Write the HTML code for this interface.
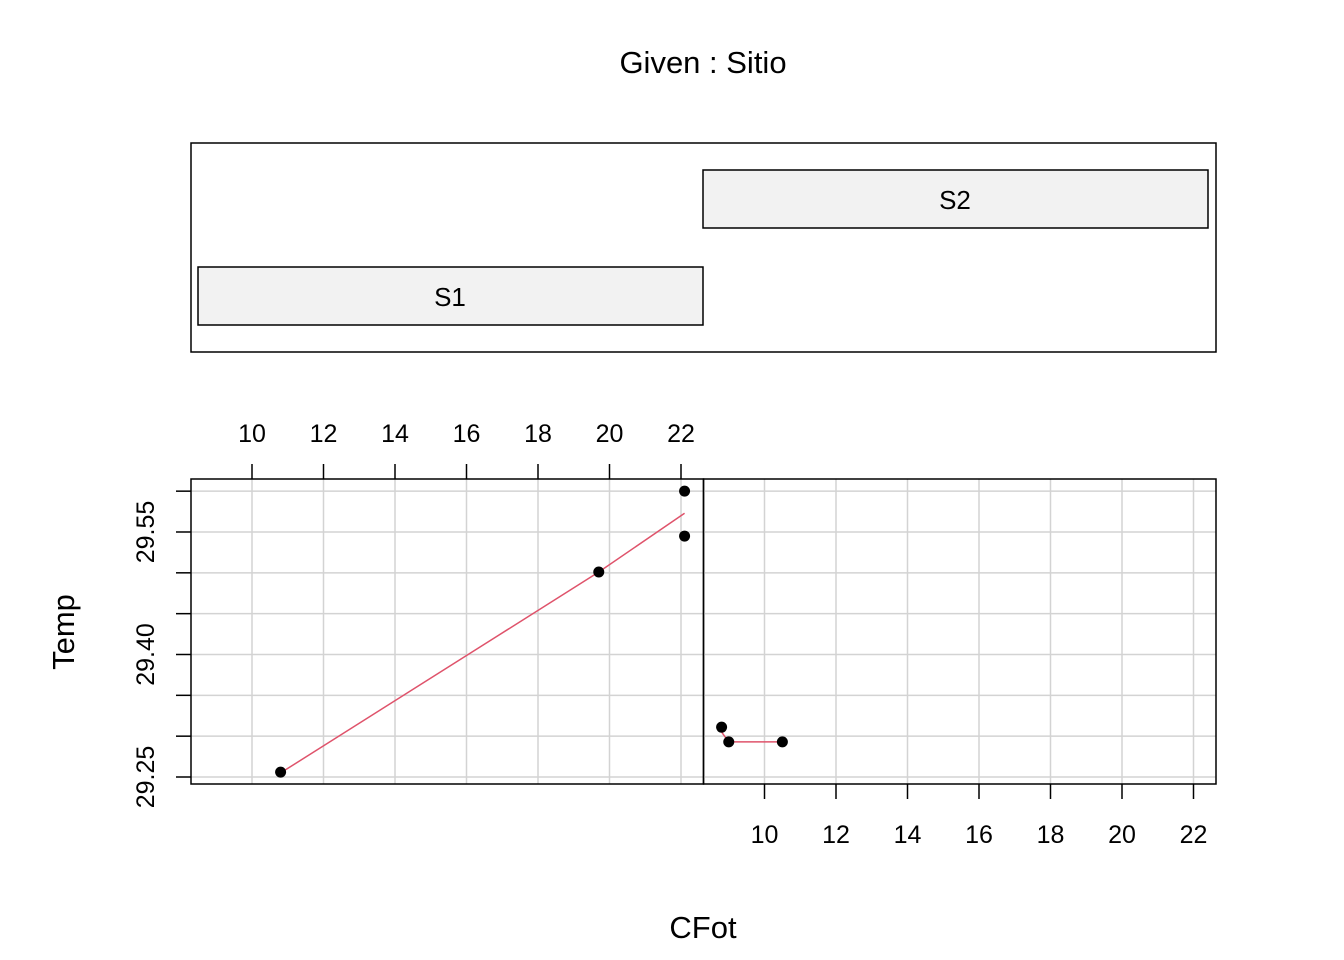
<!DOCTYPE html>
<html><head><meta charset="utf-8"><style>
body{margin:0;background:#fff;}
svg{display:block;font-family:"Liberation Sans",Arial,sans-serif;}
</style></head><body>
<svg id="chart" width="1344" height="960">
<text x="703" y="73" font-size="31" text-anchor="middle">Given : Sitio</text>
<rect x="191" y="143" width="1025" height="209" fill="none" stroke="#000" stroke-width="1.5"/>
<g id="given"></g>
<g id="panels"></g>
<text x="703" y="938" font-size="31" text-anchor="middle">CFot</text>
<text transform="translate(74,632) rotate(-90)" font-size="31" text-anchor="middle">Temp</text>
</svg>
<script>
const levels=["S1","S2"];
const xTicks=[10,12,14,16,18,20,22];
const yTicks=[29.25,29.30,29.35,29.40,29.45,29.50,29.55,29.60];
const yLabels=[29.25,29.40,29.55];
const s1x=[10.8,19.7,22.1,22.1];
const s1y=[29.256,29.501,29.545,29.600];
const s1fitx=[10.8,19.7,22.1];
const s1fity=[29.255,29.501,29.573];
const s2x=[8.8,9.0,10.5];
const s2y=[29.311,29.293,29.293];
const s2fitx=[8.8,9.0,10.5];
const s2fity=[29.305,29.293,29.293];
const NS="http://www.w3.org/2000/svg";
function mk(t,a,p){const e=document.createElementNS(NS,t);for(const k in a)e.setAttribute(k,a[k]);p.appendChild(e);return e;}
const panelsG=document.getElementById('panels');
const givenG=document.getElementById('given');
const pw=512.5, pTop=479, pBot=784;
const panelX0=[191,703.5];
function xs(i,v){return panelX0[i]+61+(v-10)*35.75;}
function ys(v){return 777-(v-29.25)*816.7;}
levels.forEach((l,i)=>{
  const y=i==0?267:170;
  const r=mk('rect',{x:i==0?198:703,y:y,width:505,height:58,fill:'#f2f2f2',stroke:'#000','stroke-width':1.5},givenG);
  
  
  const t=mk('text',{x:i==0?450:955,y:y+39,'font-size':26,'text-anchor':'middle'},givenG);
  t.textContent=l;
  
  
});
const data=[[s1x,s1y,s1fitx,s1fity],[s2x,s2y,s2fitx,s2fity]];
for(let i=0;i<2;i++){
  const x0=panelX0[i];
  xTicks.forEach(v=>{const l=mk('line',{x1:xs(i,v),x2:xs(i,v),y1:pTop,y2:pBot,stroke:'#d3d3d3','stroke-width':1.5},panelsG);
    
    });
  yTicks.forEach(v=>{const l=mk('line',{x1:x0,x2:x0+pw,y1:ys(v),y2:ys(v),stroke:'#d3d3d3','stroke-width':1.5},panelsG);
    
    });
  const [px,py,fx,fy]=data[i];
  const pl=mk('polyline',{points:fx.map((v,k)=>xs(i,v)+','+ys(fy[k])).join(' '),fill:'none',stroke:'#DF536B','stroke-width':1.5},panelsG);
  
  
  px.forEach((v,k)=>{const c=mk('circle',{cx:xs(i,v),cy:ys(py[k]),r:5.5,fill:'#000'},panelsG);
    
    });
  const b=mk('rect',{x:x0,y:pTop,width:pw,height:pBot-pTop,fill:'none',stroke:'#000','stroke-width':1.5},panelsG);
  
  
  xTicks.forEach(v=>{
    const yy=i==0?pTop:pBot, d=i==0?-15:15;
    const t=mk('line',{x1:xs(i,v),x2:xs(i,v),y1:yy,y2:yy+d,stroke:'#000','stroke-width':1.5},panelsG);
    
    
    const tx=mk('text',{x:xs(i,v),y:i==0?442:843,'font-size':25,'text-anchor':'middle'},panelsG);
    tx.textContent=v;
    
    
  });
}
yTicks.forEach(v=>{const t=mk('line',{x1:176,x2:191,y1:ys(v),y2:ys(v),stroke:'#000','stroke-width':1.5},panelsG);
  
  });
yLabels.forEach(v=>{const t=mk('text',{transform:'translate(154,'+ys(v)+') rotate(-90)','font-size':25,'text-anchor':'middle'},panelsG);
  t.textContent=v.toFixed(2);
  
  });
</script>
</body></html>
